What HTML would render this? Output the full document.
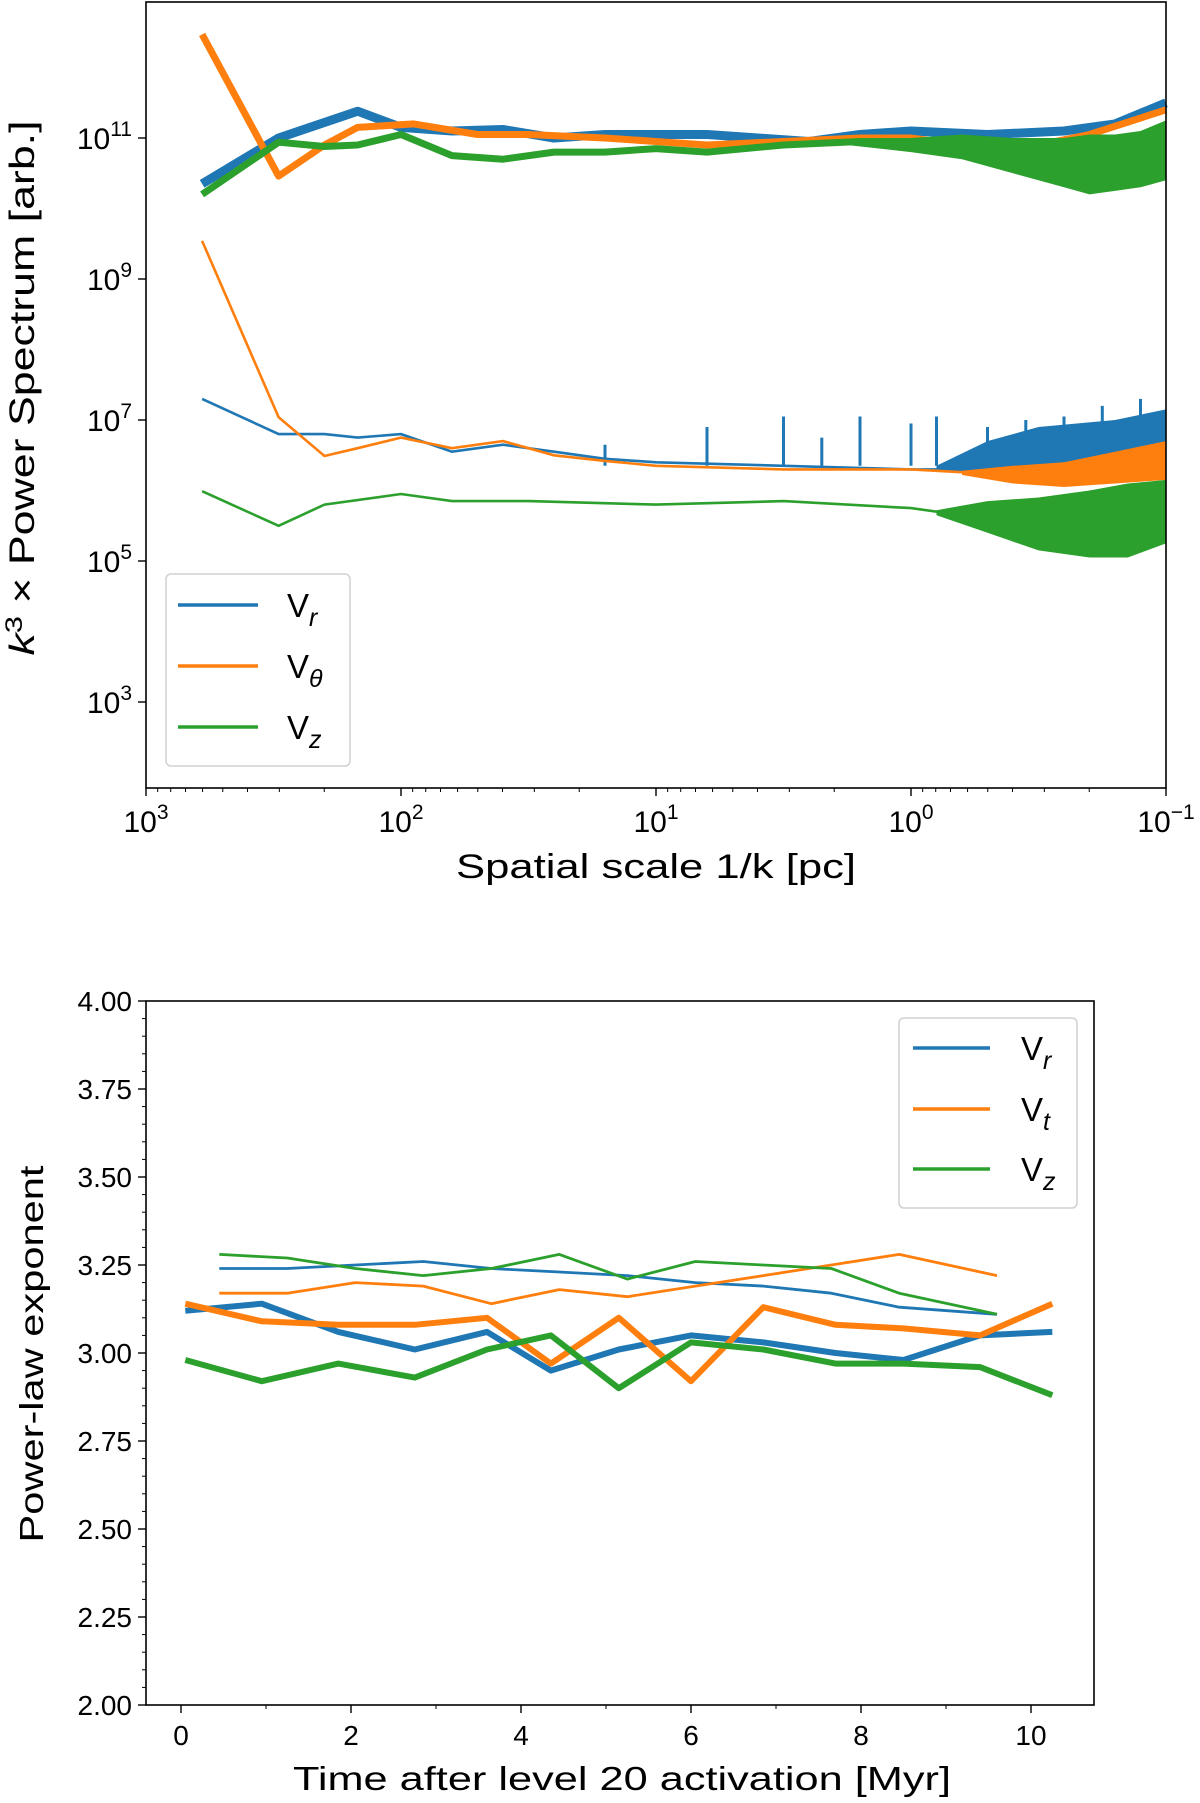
<!DOCTYPE html>
<html><head><meta charset="utf-8"><style>
html,body{margin:0;padding:0;background:#fff}
svg{display:block;font-family:"Liberation Sans","DejaVu Sans",sans-serif}
</style></head><body>
<svg id="fig" width="1200" height="1803" viewBox="0 0 1200 1803" xmlns="http://www.w3.org/2000/svg">
<g id="top"></g>
<g id="bot"></g>
</svg>
<script>
// ---------- Top chart data (x = log10 scale [pc], y = log10 power) ----------
const vrThickX = [2.78,2.48,2.17,2.0,1.8,1.6,1.4,1.2,1.0,0.8,0.6,0.4,0.2,0.0,-0.3,-0.6,-0.8,-1.0];
const vrThickY = [10.35,11.0,11.38,11.15,11.1,11.12,11.0,11.05,11.05,11.05,11.0,10.95,11.05,11.1,11.05,11.1,11.2,11.5];
const vtThickX = [2.78,2.48,2.3,2.17,1.95,1.7,1.5,1.2,1.0,0.8,0.5,0.2,0.0,-0.3,-0.5,-0.7,-1.0];
const vtThickY = [12.47,10.46,10.9,11.15,11.2,11.05,11.05,11.0,10.95,10.9,10.95,11.0,11.0,10.85,10.9,11.05,11.4];
const vzThickX = [2.78,2.48,2.3,2.17,2.0,1.8,1.6,1.4,1.2,1.0,0.8,0.5,0.2,0.0];
const vzThickY = [10.2,10.94,10.88,10.9,11.05,10.75,10.7,10.8,10.8,10.85,10.8,10.9,10.95,10.95];
const vzBandX = [0.3,0.0,-0.2,-0.4,-0.6,-0.7,-0.8,-0.9,-1.0];
const vzBandLo = [10.92,10.8,10.7,10.5,10.3,10.2,10.25,10.3,10.4];
const vzBandHi = [10.98,11.0,11.05,11.0,11.0,11.05,11.05,11.1,11.25];
const vrThinX = [2.78,2.48,2.3,2.17,2.0,1.8,1.6,1.4,1.2,1.0,0.5,0.0,-0.5,-1.0];
const vrThinY = [7.3,6.8,6.8,6.75,6.8,6.55,6.65,6.55,6.45,6.4,6.35,6.3,6.3,6.55];
const vrBandX = [-0.1,-0.3,-0.5,-0.8,-1.0];
const vrBandLo = [6.28,6.25,6.2,6.3,6.35];
const vrBandHi = [6.35,6.7,6.9,7.0,7.15];
const vrSpikeX = [1.2,0.8,0.5,0.35,0.2,0.0,-0.1,-0.3,-0.45,-0.6,-0.75,-0.9];
const vrSpikeY = [6.65,6.9,7.05,6.75,7.05,6.95,7.05,6.9,7.0,7.05,7.2,7.3];
const vtThinX = [2.78,2.48,2.3,2.17,2.0,1.8,1.6,1.4,1.2,1.0,0.5,0.0,-0.5,-0.8,-1.0];
const vtThinY = [9.54,7.04,6.49,6.6,6.75,6.6,6.7,6.5,6.42,6.35,6.3,6.3,6.2,6.2,6.4];
const vtBandX = [-0.2,-0.4,-0.6,-0.8,-1.0];
const vtBandLo = [6.22,6.1,6.05,6.1,6.15];
const vtBandHi = [6.28,6.35,6.4,6.55,6.7];
const vzThinX = [2.78,2.48,2.3,2.0,1.8,1.5,1.0,0.5,0.0,-0.2];
const vzThinY = [5.99,5.5,5.8,5.95,5.85,5.85,5.8,5.85,5.75,5.65];
const vzThinBandX = [-0.1,-0.3,-0.5,-0.7,-0.85,-1.0];
const vzThinBandLo = [5.65,5.4,5.15,5.05,5.05,5.25];
const vzThinBandHi = [5.72,5.85,5.9,6.0,6.1,6.15];
const topXTicks = [3,2,1,0,-1];
const topXTickLabels = ["3","2","1","0","\u22121"];
const topYTicks = [11,9,7,5,3];

// ---------- Bottom chart data ----------
const thickT = [0.05,0.95,1.85,2.75,3.6,4.35,5.15,6.0,6.85,7.7,8.5,9.4,10.25];
const vrThickExp = [3.12,3.14,3.06,3.01,3.06,2.95,3.01,3.05,3.03,3.0,2.98,3.05,3.06];
const vtThickExp = [3.14,3.09,3.08,3.08,3.10,2.97,3.10,2.92,3.13,3.08,3.07,3.05,3.14];
const vzThickExp = [2.98,2.92,2.97,2.93,3.01,3.05,2.90,3.03,3.01,2.97,2.97,2.96,2.88];
const thinT = [0.45,1.25,2.05,2.85,3.65,4.45,5.25,6.05,6.85,7.65,8.45,9.6];
const vrThinExp = [3.24,3.24,3.25,3.26,3.24,3.23,3.22,3.20,3.19,3.17,3.13,3.11];
const vtThinExp = [3.17,3.17,3.20,3.19,3.14,3.18,3.16,3.19,3.22,3.25,3.28,3.22];
const vzThinExp = [3.28,3.27,3.24,3.22,3.24,3.28,3.21,3.26,3.25,3.24,3.17,3.11];
const botXTicks = [0,2,4,6,8,10];
const botYTicks = [2.00,2.25,2.50,2.75,3.00,3.25,3.50,3.75,4.00];

const NS="http://www.w3.org/2000/svg";
const C={b:"#1f77b4",o:"#ff7f0e",g:"#2ca02c"};
function mk(parent,tag,attrs,text){const e=document.createElementNS(NS,tag);for(const k in attrs)e.setAttribute(k,attrs[k]);if(text!==undefined)e.textContent=text;parent.appendChild(e);return e;}

// ===== TOP =====
const T=document.getElementById('top');
const tL=146,tR=1166,tT=2,tB=788;
const tx=v=>tL+(3-v)*(tR-tL)/4;
const ty=v=>138+(11-v)*70.5;
function pathTop(xs,ys){return xs.map((x,i)=>(i?'L':'M')+tx(x).toFixed(1)+','+ty(ys[i]).toFixed(1)).join(' ');}
function bandTop(xs,lo,hi){let d=xs.map((x,i)=>(i?'L':'M')+tx(x).toFixed(1)+','+ty(hi[i]).toFixed(1)).join(' ');for(let i=xs.length-1;i>=0;i--)d+='L'+tx(xs[i]).toFixed(1)+','+ty(lo[i]).toFixed(1);return d+'Z';}
function spikes(xs,ys,base){let d='';xs.forEach((x,i)=>{d+='M'+tx(x).toFixed(1)+','+ty(base).toFixed(1)+'L'+tx(x).toFixed(1)+','+ty(ys[i]).toFixed(1);});return d;}

let e;
e=mk(T,'path',{d:bandTop(vrBandX,vrBandLo,vrBandHi),fill:C.b});

e=mk(T,'path',{d:spikes(vrSpikeX,vrSpikeY,6.35),stroke:C.b,'stroke-width':3,fill:'none'});

e=mk(T,'path',{d:pathTop(vrThinX,vrThinY),stroke:C.b,'stroke-width':2.6,fill:'none'});

e=mk(T,'path',{d:bandTop(vtBandX,vtBandLo,vtBandHi),fill:C.o});

e=mk(T,'path',{d:pathTop(vtThinX,vtThinY),stroke:C.o,'stroke-width':2.6,fill:'none'});

e=mk(T,'path',{d:bandTop(vzThinBandX,vzThinBandLo,vzThinBandHi),fill:C.g});

e=mk(T,'path',{d:pathTop(vzThinX,vzThinY),stroke:C.g,'stroke-width':2.6,fill:'none'});

e=mk(T,'path',{d:pathTop(vrThickX,vrThickY),stroke:C.b,'stroke-width':9,fill:'none','stroke-linejoin':'round'});

e=mk(T,'path',{d:pathTop(vtThickX,vtThickY),stroke:C.o,'stroke-width':7,fill:'none','stroke-linejoin':'round'});

e=mk(T,'path',{d:bandTop(vzBandX,vzBandLo,vzBandHi),fill:C.g});

e=mk(T,'path',{d:pathTop(vzThickX,vzThickY),stroke:C.g,'stroke-width':7,fill:'none','stroke-linejoin':'round'});


e=mk(T,'rect',{x:tL,y:tT,width:tR-tL,height:tB-tT,fill:'none',stroke:'#000','stroke-width':1.6});

topXTicks.forEach((v,i)=>{
  const x=tx(v);
  mk(T,'line',{x1:x,y1:tB,x2:x,y2:tB+8,stroke:'#000','stroke-width':1.4});
  const t=mk(T,'text',{x:x,y:tB+44,'font-size':30,'text-anchor':'middle'});
  
  mk(t,'tspan',{},'10');mk(t,'tspan',{dy:-13,'font-size':21},topXTickLabels[i]);
  if(v>-1){for(let m=2;m<=9;m++){const xm=tx(v-1+Math.log10(m));mk(T,'line',{x1:xm,y1:tB,x2:xm,y2:tB+4,stroke:'#000','stroke-width':1});}}
});
topYTicks.forEach(v=>{
  const y=ty(v);
  mk(T,'line',{x1:tL,y1:y,x2:tL-8,y2:y,stroke:'#000','stroke-width':1.4});
  const t=mk(T,'text',{x:tL-14,y:y+11,'font-size':30,'text-anchor':'end'});
  
  mk(t,'tspan',{},'10');mk(t,'tspan',{dy:-13,'font-size':21},String(v));
});
e=mk(T,'text',{x:656,y:878,'font-size':34,'text-anchor':'middle',textLength:400,lengthAdjust:'spacingAndGlyphs'},'Spatial scale 1/k [pc]');

e=mk(T,'text',{x:0,y:0,'font-size':35,'text-anchor':'middle',transform:'translate(34,388) rotate(-90)',textLength:535,lengthAdjust:'spacingAndGlyphs'});

mk(e,'tspan',{'font-style':'italic'},'k');mk(e,'tspan',{dy:-12,'font-size':24},'3');mk(e,'tspan',{dy:12},' \u00d7  Power Spectrum [arb.]');
// legend top
e=mk(T,'rect',{x:166,y:574,width:184,height:192,rx:5,fill:'#fff',stroke:'#ccc','stroke-width':1.5,opacity:0.9});

[[C.b,'r',605],[C.o,'\u03b8',666],[C.g,'z',727]].forEach(([c,s,y])=>{
  mk(T,'line',{x1:178,y1:y,x2:258,y2:y,stroke:c,'stroke-width':3.5});
  const t=mk(T,'text',{x:287,y:y+12,'font-size':33});
  
  mk(t,'tspan',{},'V');mk(t,'tspan',{dy:9,'font-size':25,'font-style':'italic'},s);
});

// ===== BOTTOM =====
const B=document.getElementById('bot');
const bL=146,bR=1094,bT=1001,bB=1705;
const bx=v=>181+v*85;
const by=v=>bB-(v-2)*(bB-bT)/2;
function pathB(xs,ys){return xs.map((x,i)=>(i?'L':'M')+bx(x).toFixed(1)+','+by(ys[i]).toFixed(1)).join(' ');}
[[thinT,vrThinExp,C.b,'vr-thin-exponent'],[thinT,vtThinExp,C.o,'vt-thin-exponent'],[thinT,vzThinExp,C.g,'vz-thin-exponent']].forEach(([xs,ys,c,n])=>{
  const p=mk(B,'path',{d:pathB(xs,ys),stroke:c,'stroke-width':2.8,fill:'none','stroke-linejoin':'round'});
  
});
[[thickT,vrThickExp,C.b,'vr-thick-exponent'],[thickT,vtThickExp,C.o,'vt-thick-exponent'],[thickT,vzThickExp,C.g,'vz-thick-exponent']].forEach(([xs,ys,c,n])=>{
  const p=mk(B,'path',{d:pathB(xs,ys),stroke:c,'stroke-width':6,fill:'none','stroke-linejoin':'round'});
  
});
e=mk(B,'rect',{x:bL,y:bT,width:bR-bL,height:bB-bT,fill:'none',stroke:'#000','stroke-width':1.6});

botXTicks.forEach(v=>{
  const x=bx(v);
  mk(B,'line',{x1:x,y1:bB,x2:x,y2:bB+8,stroke:'#000','stroke-width':1.4});
  const t=mk(B,'text',{x:x,y:bB+40,'font-size':28,'text-anchor':'middle'},String(v));
  
});
for(let m=-1;m<=11;m++){if(m%2){const x=bx(m);if(x>bL&&x<bR)mk(B,'line',{x1:x,y1:bB,x2:x,y2:bB+4,stroke:'#000','stroke-width':1});}}
botYTicks.forEach(v=>{
  const y=by(v);
  mk(B,'line',{x1:bL,y1:y,x2:bL-8,y2:y,stroke:'#000','stroke-width':1.4});
  const t=mk(B,'text',{x:bL-14,y:y+10,'font-size':28,'text-anchor':'end'},v.toFixed(2));
  
});
for(let k=0;k<=40;k++){if(k%5){const y=by(2+k*0.05);mk(B,'line',{x1:bL,y1:y,x2:bL-4,y2:y,stroke:'#000','stroke-width':1});}}
e=mk(B,'text',{x:622,y:1790,'font-size':33,'text-anchor':'middle',textLength:658,lengthAdjust:'spacingAndGlyphs'},'Time after level 20 activation [Myr]');

e=mk(B,'text',{x:0,y:0,'font-size':33,'text-anchor':'middle',transform:'translate(43,1354) rotate(-90)',textLength:377,lengthAdjust:'spacingAndGlyphs'},'Power-law exponent');

e=mk(B,'rect',{x:899,y:1018,width:178,height:190,rx:5,fill:'#fff',stroke:'#ccc','stroke-width':1.5,opacity:0.9});

[[C.b,'r',1048],[C.o,'t',1109],[C.g,'z',1169]].forEach(([c,s,y])=>{
  mk(B,'line',{x1:913,y1:y,x2:990,y2:y,stroke:c,'stroke-width':3.5});
  const t=mk(B,'text',{x:1021,y:y+12,'font-size':33});
  
  mk(t,'tspan',{},'V');mk(t,'tspan',{dy:9,'font-size':25,'font-style':'italic'},s);
});
</script>
</body></html>
